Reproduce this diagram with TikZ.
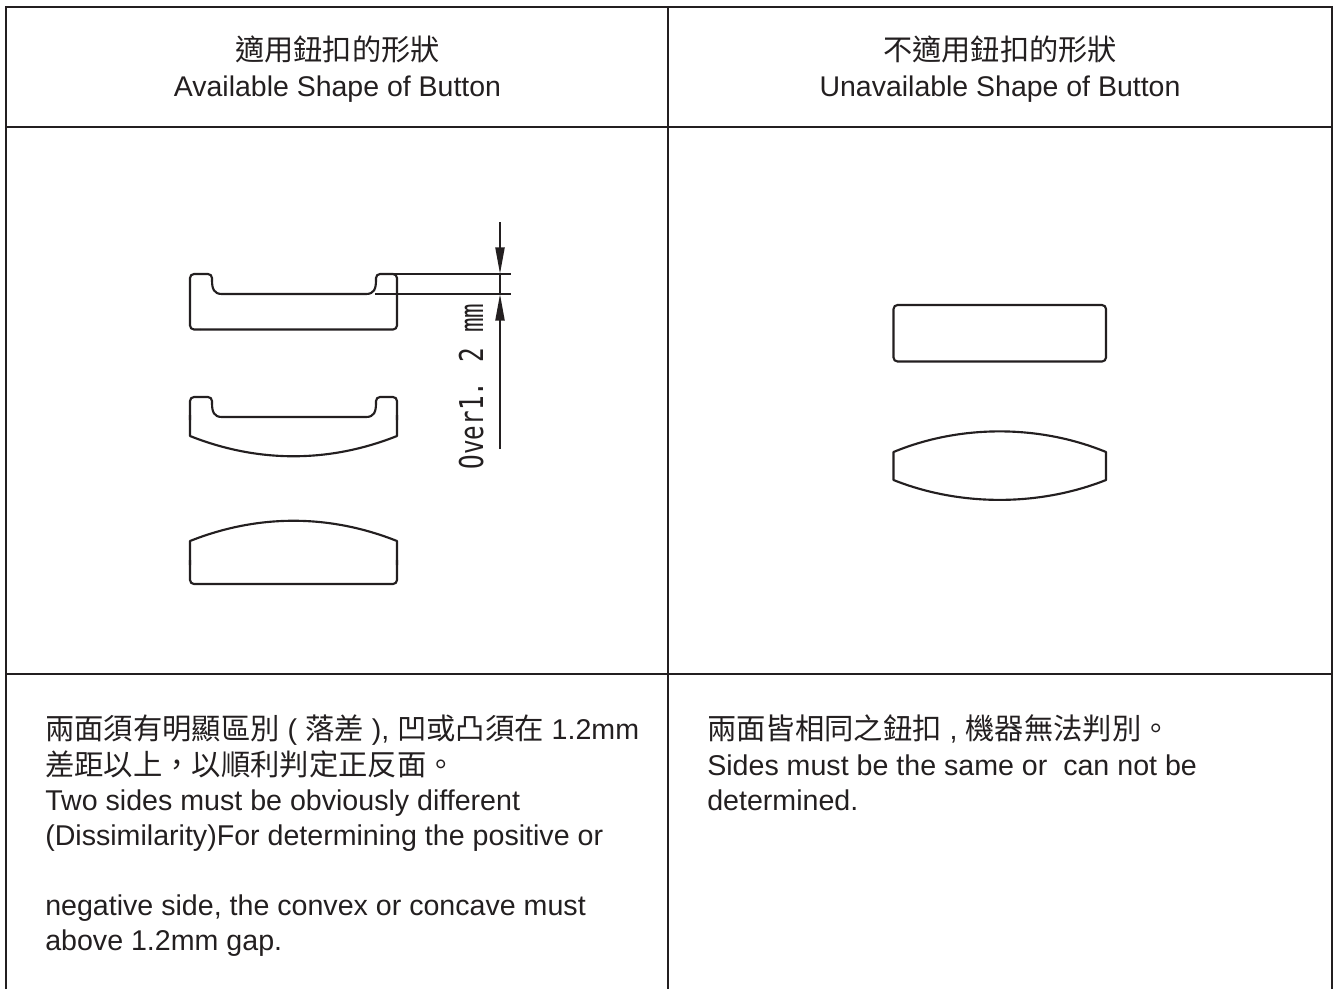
\documentclass[tikz,border=0pt]{standalone}
\usepackage{fontspec}
\usepackage{graphicx}
\usetikzlibrary{arrows.meta}
\setmainfont{Liberation Sans}
\newfontfamily\cjk{Noto Sans CJK TC}[Scale=1.025]
\newfontfamily\dimfont{DejaVu Sans Mono}
\definecolor{ink}{HTML}{231F20}
\tikzset{
  x=0.75pt,y=-0.75pt,
  gridline/.style={draw=ink,line width=2pt},
  shapeline/.style={draw=ink,line width=1.6pt,line join=round},
  dimline/.style={draw=ink,line width=1.5pt},
  head/.style={-{Triangle[length=20pt,width=6.8pt]}},
  captext/.style={anchor=base,text=ink,inner sep=0pt,font=\fontsize{21.35}{25}\selectfont},
  bodytext/.style={anchor=base west,text=ink,inner sep=0pt,font=\fontsize{21.45}{25}\selectfont},
}
\begin{document}
\begin{tikzpicture}
\useasboundingbox (0,0) rectangle (1333,989);
% grid
\draw[gridline] (6,989) -- (6,7) -- (1332,7) -- (1332,989);
\draw[gridline] (668,7) -- (668,989);
\draw[gridline] (6,127) -- (1332,127);
\draw[gridline] (6,674) -- (1332,674);
% headers
\node[captext] (h1a) at (337.5,60.5) {\cjk 適用鈕扣的形狀};
\node[captext] (h1b) at (337.5,96) {Available Shape of Button};
\node[captext] (h2a) at (1000,60.5) {\cjk 不適用鈕扣的形狀};
\node[captext] (h2b) at (1000,96) {Unavailable Shape of Button};
% left shapes
\draw[shapeline,rounded corners=3pt] (200,329.5) -- (190,329.5) -- (190,274) -- (212,274) -- (212,280);
\draw[shapeline] (212,280) .. controls (212,289) and (214,294) .. (222,294) -- (366,294) .. controls (374,294) and (376,289) .. (376,280);
\draw[shapeline,rounded corners=3pt] (376,280) -- (376,274) -- (397,274) -- (397,329.5) -- (200,329.5);
\draw[shapeline,rounded corners=3pt] (190,420) -- (190,397) -- (212,397) -- (212,403);
\draw[shapeline] (212,403) .. controls (212,412) and (214,417) .. (222,417) -- (366,417) .. controls (374,417) and (376,412) .. (376,403);
\draw[shapeline,rounded corners=3pt] (376,403) -- (376,397) -- (397,397) -- (397,420);
\draw[shapeline] (190,415) -- (190,436) .. controls (258,463) and (329,463) .. (397,436) -- (397,415);
\draw[shapeline] (190,565) -- (190,541) .. controls (258,514) and (329,514) .. (397,541) -- (397,565);
\draw[shapeline,rounded corners=3pt] (190,560) -- (190,584) -- (397,584) -- (397,560);
% dimension
\coordinate (e1a) at (385,274);
\coordinate (e1b) at (511,274);
\coordinate (e2a) at (375,294);
\coordinate (e2b) at (511,294);
\coordinate (d1a) at (500,222);
\coordinate (d1b) at (500,274);
\coordinate (d2a) at (500,449);
\coordinate (d2b) at (500,294);
\draw[dimline] (e1a) -- (e1b);
\draw[dimline] (e2a) -- (e2b);
\draw[dimline,head] (d1a) -- (d1b);
\draw[dimline,head] (d2a) -- (d2b);
\draw[dimline] (d1b) -- (d2b);
\node[text=ink,inner sep=0pt,rotate=90,anchor=base] (dimtext) at (483,386.5) {\scalebox{0.74}[1]{\fontsize{24.6}{26}\selectfont\dimfont Over1. 2 mm}};
% right shapes
\draw[shapeline,rounded corners=3pt] (893.5,305) rectangle (1106,361.5);
\draw[shapeline] (893.5,452) .. controls (960,424.5) and (1039,424.5) .. (1106,452) -- (1106,480) .. controls (1039,506.5) and (960,506.5) .. (893.5,480) -- cycle;
% body left
\node[bodytext] (b1) at (45,739) {{\cjk 兩面須有明顯區別} ( {\cjk 落差} ), {\cjk 凹或凸須在} 1.2mm};
\node[bodytext] (b2) at (45,775) {\cjk 差距以上，以順利判定正反面。};
\node[bodytext] (b3) at (45,810) {Two sides must be obviously different};
\node[bodytext] (b4) at (45,845) {(Dissimilarity)For determining the positive or};
\node[bodytext] (b5) at (45,915) {negative side, the convex or concave must};
\node[bodytext] (b6) at (45,950) {above 1.2mm gap.};
% body right
\node[bodytext] (c1) at (707,739) {{\cjk 兩面皆相同之鈕扣} , {\cjk 機器無法判別。}};
\node[bodytext] (c2) at (707,775) {Sides must be the same or~~can not be};
\node[bodytext] (c3) at (707,810) {determined.};
\end{tikzpicture}
\end{document}
